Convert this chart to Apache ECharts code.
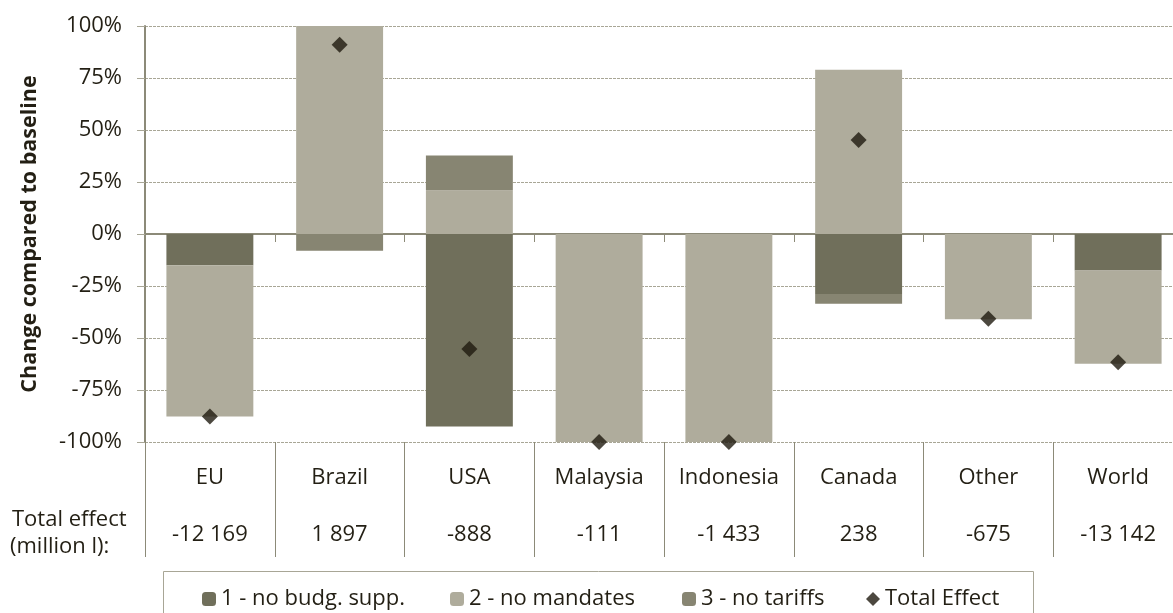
<!DOCTYPE html>
<html>
<head>
<meta charset="utf-8">
<script src="https://cdn.jsdelivr.net/npm/echarts@6/dist/echarts.min.js"></script>
<style>
  html, body { margin: 0; padding: 0; background: #fff; }
  #chart { width: 1173px; height: 613px; }
</style>
</head>
<body>
<div id="chart"></div>
<script>
// data (% change compared to baseline)
const regions = ['EU', 'Brazil', 'USA', 'Malaysia', 'Indonesia', 'Canada', 'Other', 'World'];
const totalMillionL = ['-12 169', '1 897', '-888', '-111', '-1 433', '238', '-675', '-13 142'];
const noBudgSupp = [-15, 0, -92.6, 0, 0, -28.8, 0, -17.6];
const noMandates = [-72.8, 100, 21, -100, -100, 79, -41, -44.8];
const noTariffs = [0, -8, 16.7, 0, 0, -4.7, 0, 0];
const totalEffect = [-87.7, 91, -55.3, -100, -100, 45.2, -40.8, -61.7];

const FONT = '"Open Sans", sans-serif';
const TEXT = '#231f14';
const GRID = '#a8a696';
const AXIS = '#8c8a78';

const chart = echarts.init(document.getElementById('chart'));

const legendAt = (name, left) => ({
  data: [name],
  left: left,
  top: 588,
  padding: 0,
  itemWidth: 14,
  itemHeight: 14,
  itemGap: 0,
  textStyle: { fontFamily: FONT, fontSize: 22, color: TEXT },
  selectedMode: false
});

chart.setOption({
  animation: false,
  // the plot runs a little past the right edge, like the original crop
  grid: { left: 145, top: 26, height: 416, width: 1038, containLabel: false, outerBoundsMode: 'none' },
  legend: [
    legendAt('1 - no budg. supp.', 202),
    legendAt('2 - no mandates', 450),
    legendAt('3 - no tariffs', 682),
    legendAt('Total Effect', 866)
  ],
  graphic: [
    { type: 'rect', shape: { x: 163.5, y: 571.5, width: 870, height: 60 },
      style: { fill: 'none', stroke: GRID, lineWidth: 1 }, z: -1 },
    { type: 'text', left: 12, top: 509,
      style: { text: 'Total effect', font: '22px ' + FONT, fill: TEXT } },
    { type: 'text', left: 10, top: 536,
      style: { text: '(million l):', font: '22px ' + FONT, fill: TEXT } }
  ],
  xAxis: [
    {
      type: 'category',
      data: regions,
      position: 'bottom',
      axisLine: { onZero: true, lineStyle: { color: AXIS, width: 2 } },
      axisTick: { show: true, length: 8, interval: 0, lineStyle: { color: AXIS } },
      axisLabel: { show: false },
      splitLine: { show: false }
    },
    {
      type: 'category',
      data: regions,
      position: 'bottom',
      axisLine: { show: false, onZero: false },
      axisTick: { show: true, length: 115, interval: 0, lineStyle: { color: AXIS, width: 1 } },
      axisLabel: {
        interval: 0,
        margin: 7,
        formatter: (v, i) => '{a|' + v + '}\n{a|' + totalMillionL[i] + '}',
        rich: { a: { fontFamily: FONT, fontSize: 22, color: TEXT, lineHeight: 57 } }
      }
    }
  ],
  yAxis: {
    type: 'value',
    min: -100,
    max: 100,
    interval: 25,
    name: 'Change compared to baseline',
    nameLocation: 'middle',
    nameGap: 104,
    nameTextStyle: { fontFamily: FONT, fontSize: 21.5, fontWeight: 'bold', color: TEXT },
    axisLine: { show: true, lineStyle: { color: AXIS, width: 2 } },
    axisTick: { show: true, length: 8, lineStyle: { color: GRID } },
    axisLabel: { formatter: '{value}%', margin: 23, fontFamily: FONT, fontSize: 22, color: TEXT },
    splitLine: { lineStyle: { color: GRID, type: [3, 1], width: 1 } }
  },
  series: [
    { name: '1 - no budg. supp.', type: 'bar', stack: 'eff', data: noBudgSupp,
      barCategoryGap: '33%', itemStyle: { color: '#706f5b' } },
    { name: '2 - no mandates', type: 'bar', stack: 'eff', data: noMandates,
      itemStyle: { color: '#afac9c' } },
    { name: '3 - no tariffs', type: 'bar', stack: 'eff', data: noTariffs,
      itemStyle: { color: '#878572' } },
    { name: 'Total Effect', type: 'scatter', data: totalEffect, symbol: 'diamond',
      symbolSize: 16, itemStyle: { color: '#1f1a0f' }, z: 5 }
  ]
});
</script>
</body>
</html>
